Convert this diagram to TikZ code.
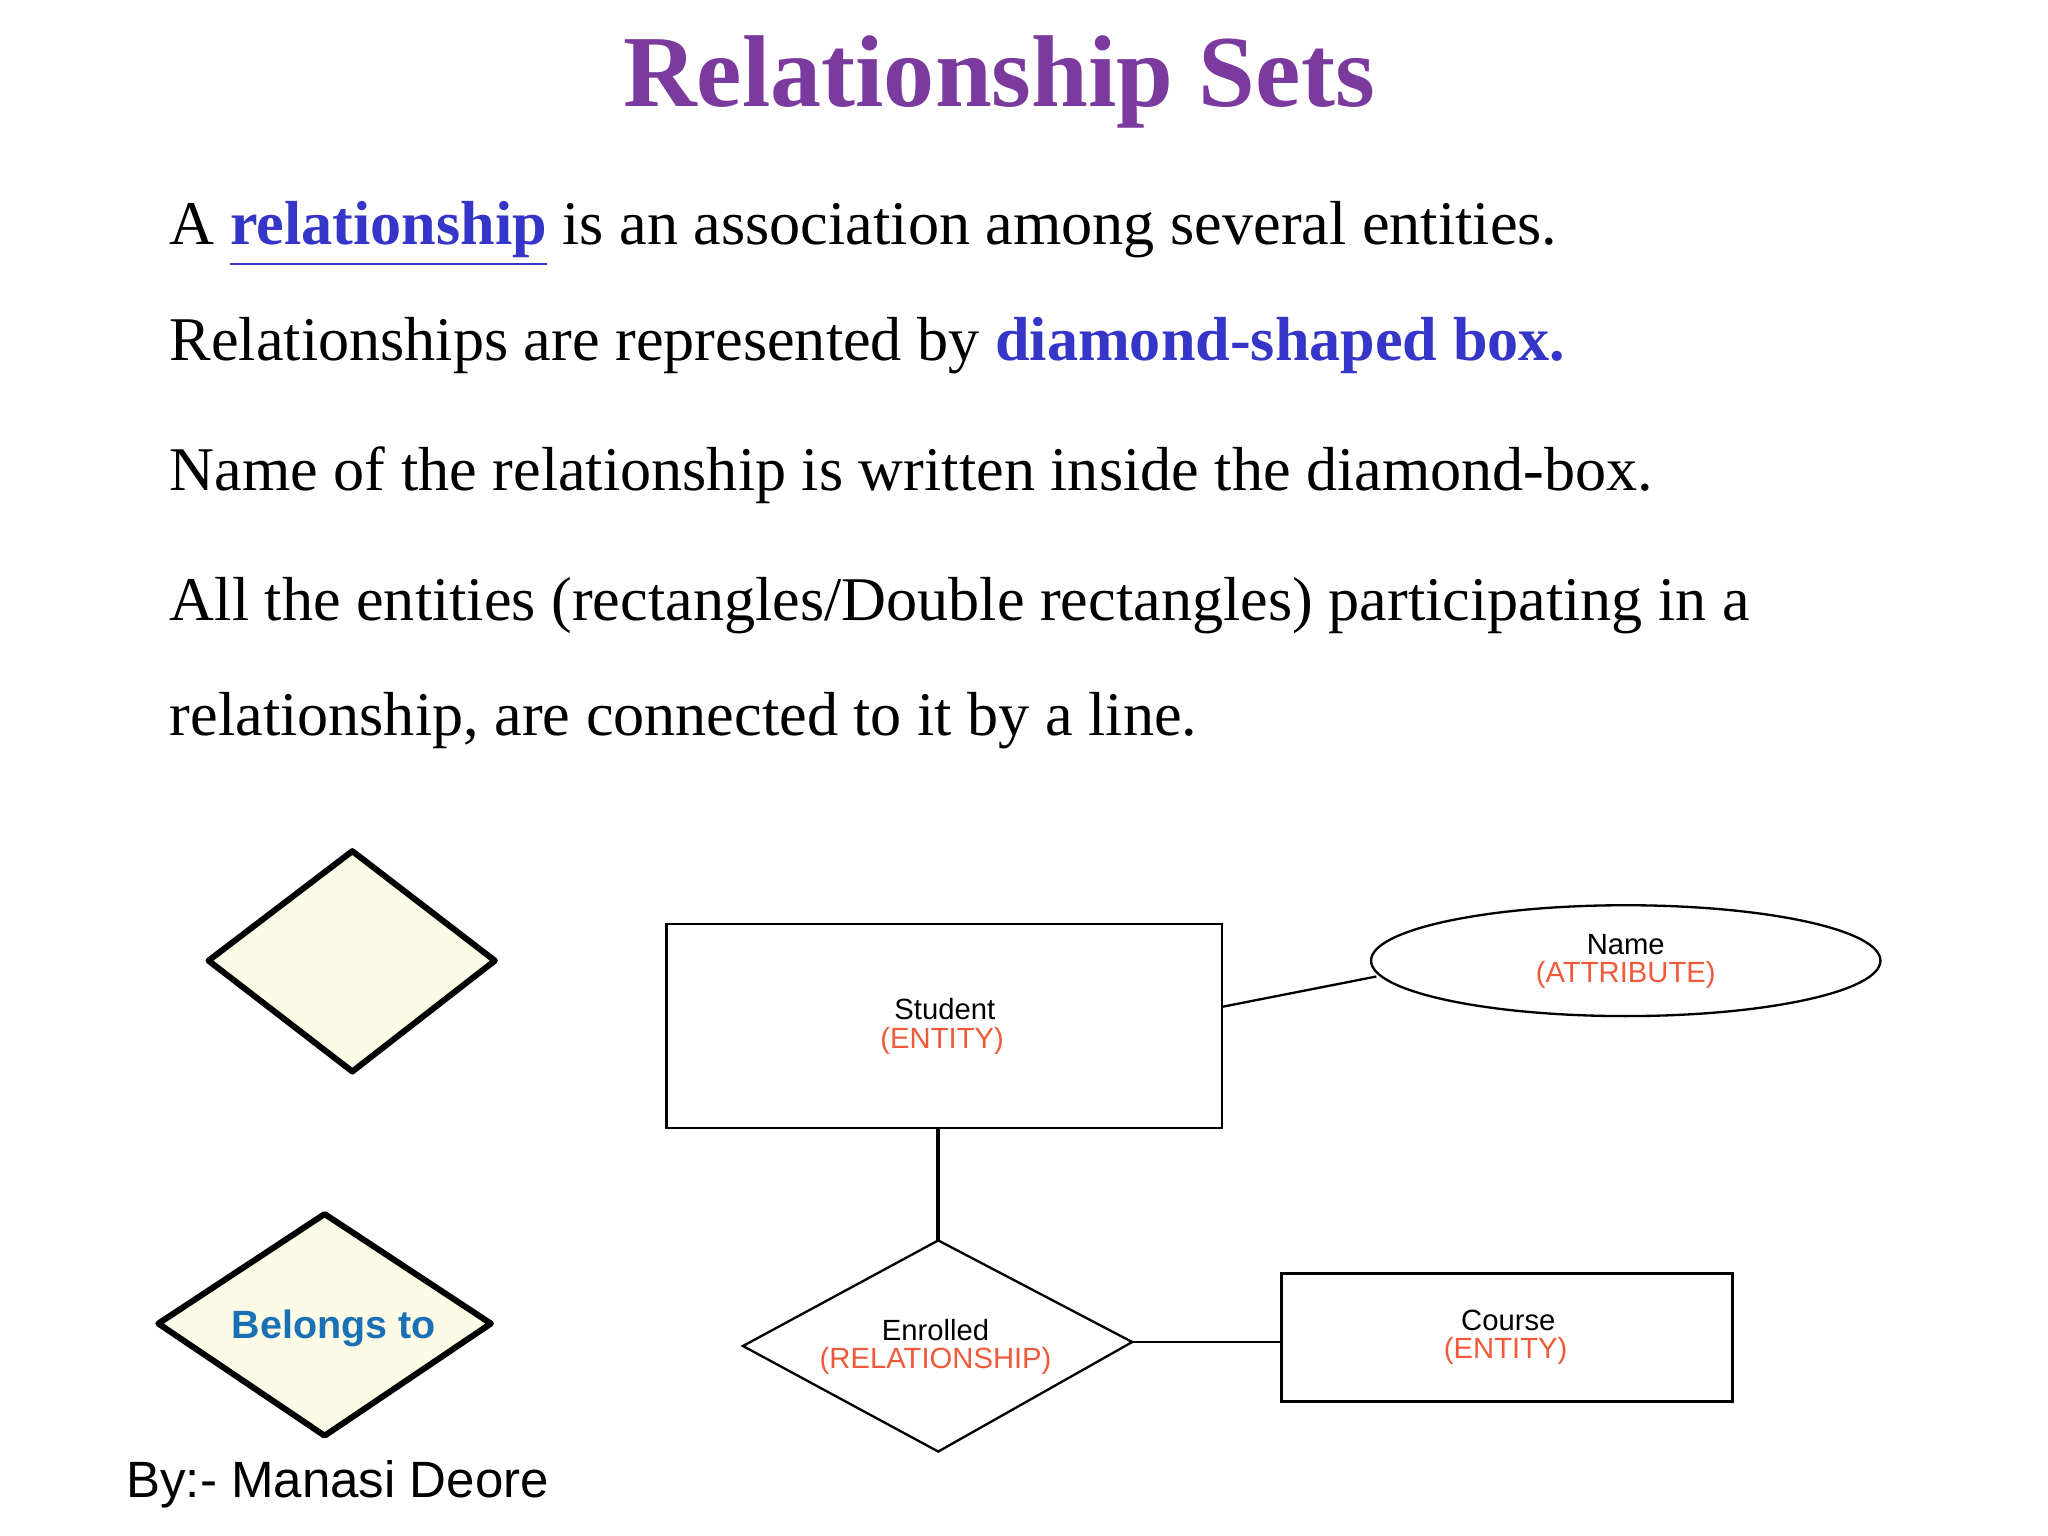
\documentclass[tikz,border=0pt]{standalone}
\usepackage{fontspec}
\setmainfont{Liberation Serif}
\setsansfont{Liberation Sans}
\usetikzlibrary{shapes.geometric}
\definecolor{ttl}{HTML}{7A3A9E}
\definecolor{kw}{HTML}{3535C8}
\definecolor{blt}{HTML}{1A6FB5}
\definecolor{ora}{HTML}{F05A3A}
\definecolor{dfill}{HTML}{FBFBE6}
\begin{document}
\begin{tikzpicture}[x=0.01cm,y=-0.01cm,
  body/.style={anchor=base west,inner sep=0,font=\fontsize{13.4pt}{15pt}\selectfont},
  lab/.style={inner sep=0,font=\sffamily\fontsize{6.3pt}{7pt}\selectfont},
  thin/.style={draw=black,line width=0.5pt}]
\useasboundingbox (0,0) rectangle (1552,1164);
\node[inner sep=0,text=ttl,font=\bfseries\fontsize{22pt}{25pt}\selectfont] (title) at (757,62) {Relationship Sets};
\node[body] (l1) at (128,185) {A \textcolor{kw}{\bfseries\underline{relationship}} is an association among several entities.};
\node[body] (l2) at (128,273) {Relationships are represented by \textcolor{kw}{\bfseries diamond-shaped box.}};
\node[body] (l3) at (128,372) {Name of the relationship is written inside the diamond-box.};
\node[body] (l4) at (128,470) {All the entities (rectangles/Double rectangles) participating in a};
\node[body] (l5) at (128,557) {relationship, are connected to it by a line.};
% diamonds
\draw[line width=1.3pt,fill=dfill,line join=round] (267,645) coordinate (d1t) -- (375,728) -- (267,812) -- (158,728) -- cycle;
\draw[line width=1.3pt,fill=dfill,line join=round] (246,920) coordinate (d2t) -- (372,1003) -- (246,1088) -- (120,1003) -- cycle;
\node[inner sep=0,text=blt,font=\sffamily\bfseries\fontsize{8.5pt}{10pt}\selectfont] (bel) at (253,1007) {Belongs to};
% student
\draw[thin] (505,700) rectangle (926,855);
\coordinate (sr) at (926,763); \coordinate (sb) at (711,855);
\node[lab] (stu) at (716,765) {Student};
\node[lab,text=ora] (stue) at (714,789) {(ENTITY)};
% ellipse
\draw[thin] (1232,728) ellipse [x radius=193, y radius=42];
\coordinate (el) at (1043,740);
\node[lab] (nm) at (1232,716) {Name};
\node[lab,text=ora] (nma) at (1232,739) {(ATTRIBUTE)};
\draw[thin] (sr) -- (el);
% enrolled
\draw[thin] (711,940) coordinate (et) -- (858,1017) coordinate (er) -- (711,1100) -- (563,1020) -- cycle;
\draw[line width=0.8pt] (sb) -- (et);
\node[lab] (enr) at (709,1008) {Enrolled};
\node[lab,text=ora] (enrr) at (709,1031) {(RELATIONSHIP)};
% course
\draw[thin] (971,965) rectangle (1313,1062);
\coordinate (cl) at (971,1017);
\draw[thin] (er) -- (cl);
\node[lab] (crs) at (1143,1001) {Course};
\node[lab,text=ora] (crse) at (1141,1024) {(ENTITY)};
\node[anchor=base west,inner sep=0,font=\sffamily\fontsize{11pt}{12pt}\selectfont] (by) at (95,1135) {By:- Manasi Deore};
\end{tikzpicture}
\end{document}
